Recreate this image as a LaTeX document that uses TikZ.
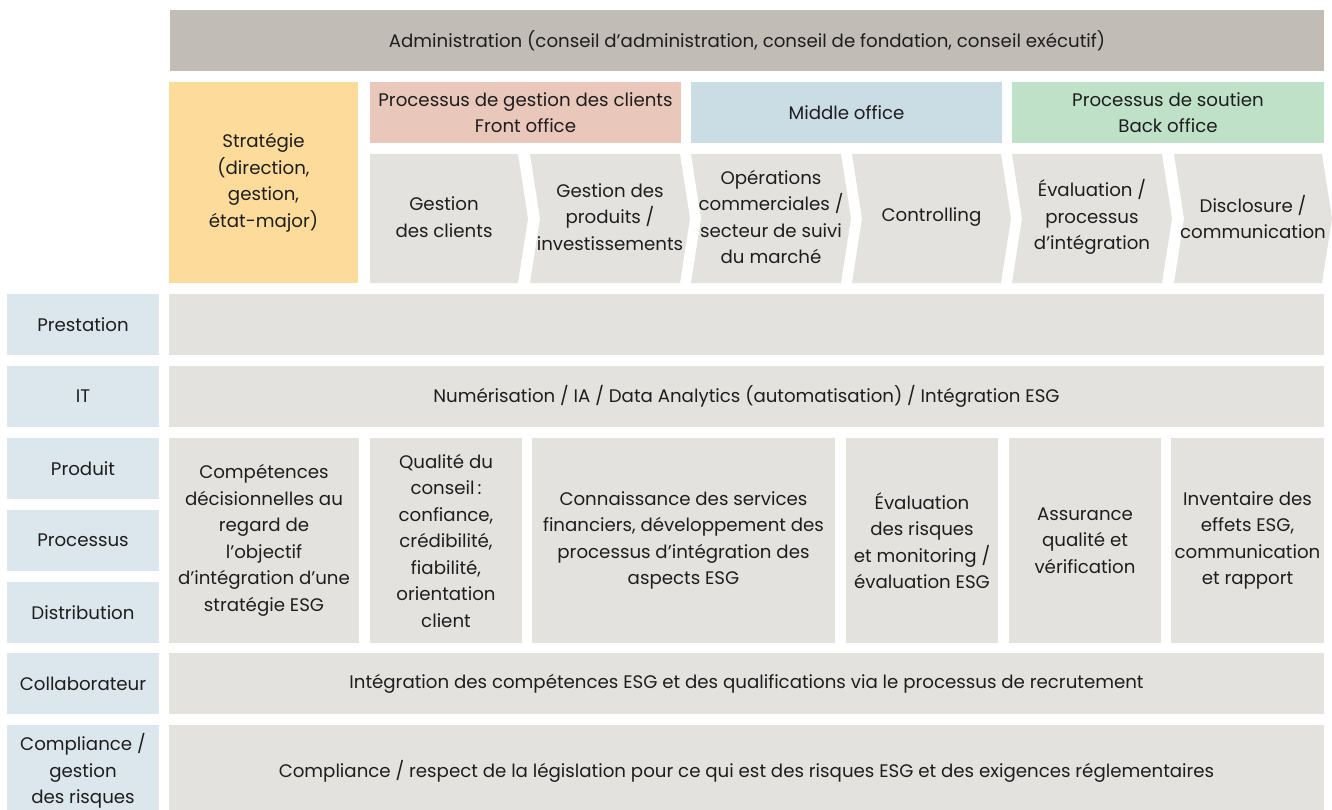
\documentclass[tikz,border=0pt]{standalone}
\usepackage{fontspec}
\setmainfont{Poppins}
\definecolor{admin}{HTML}{C1BCB6}
\definecolor{strat}{HTML}{FDDB9B}
\definecolor{front}{HTML}{E9C7BA}
\definecolor{middle}{HTML}{CADCE4}
\definecolor{back}{HTML}{BEE1C8}
\definecolor{gbox}{HTML}{E3E2DF}
\definecolor{lbl}{HTML}{DCE6ED}
\definecolor{ink}{HTML}{1E1E1E}
\newcommand\myfs{\fontsize{18.2}{26.5}\selectfont}
\tikzset{
  txt/.style={text=ink, font=\myfs, align=center, inner sep=0pt},
}
% name, x, y, width, height, fill, text
\newcommand\mybox[7]{%
  \fill[#6] (#2,#3) rectangle ++(#4,#5);
  \node[txt] (#1) at ({#2+#4/2},{#3+#5/2}) {#7};
}
% name, L, R, notch, text
\newcommand\mychev[5]{%
  \fill[gbox] (#2,154) -- (#3,154) -- (#3+10,218.5) -- (#3,283) -- (#2,283) -- (#2+#4,218.5) -- cycle;
  \node[txt] (#1) at ({(#2+#3)/2+#4/2},217) {#5};
}
\begin{document}
\begin{tikzpicture}[x=1pt,y=-1pt]
\useasboundingbox (0,0) rectangle (1332,809);
% top
\mybox{admin}{170}{10}{1154}{61}{admin}{Administration (conseil d’administration, conseil de fondation, conseil exécutif)}
\mybox{strat}{169}{82}{189}{201}{strat}{Stratégie\\(direction,\\gestion,\\état-major)}
\mybox{front}{370}{82}{311}{61}{front}{Processus de gestion des clients\\Front office}
\mybox{middle}{691}{82}{311}{61}{middle}{Middle office}
\mybox{back}{1012}{82}{312}{61}{back}{Processus de soutien\\Back office}
% chevrons
\mychev{c1}{370}{518}{0}{Gestion\\des clients}
\mychev{c2}{530}{680}{10}{Gestion des\\produits /\\investissements}
\mychev{c3}{691}{841}{10}{Opérations\\commerciales /\\secteur de suivi\\du marché}
\mychev{c4}{852}{1001}{10}{Controlling}
\mychev{c5}{1012}{1162}{10}{Évaluation /\\processus\\d’intégration}
\mychev{c6}{1174}{1322}{10}{Disclosure /\\communication}
% left labels
\mybox{lprest}{7}{294}{152}{61}{lbl}{Prestation}
\mybox{lit}{7}{366}{152}{61}{lbl}{IT}
\mybox{lprod}{7}{438}{152}{61}{lbl}{Produit}
\mybox{lproc}{7}{510}{152}{61}{lbl}{Processus}
\mybox{ldist}{7}{582}{152}{61}{lbl}{Distribution}
\mybox{lcoll}{7}{653}{152}{61}{lbl}{Collaborateur}
\mybox{lcomp}{7}{725}{152}{92}{lbl}{Compliance /\\gestion\\des risques}
% rows
\mybox{prest}{169}{294}{1155}{61}{gbox}{}
\mybox{it}{169}{366}{1155}{61}{gbox}{Numérisation / IA / Data Analytics (automatisation) / Intégration ESG}
\mybox{b1}{169}{438}{190}{205}{gbox}{Compétences\\décisionnelles au\\regard de\\l’objectif\\d’intégration d’une\\stratégie ESG}
\mybox{b2}{370}{438}{152}{205}{gbox}{Qualité du\\conseil\,:\\confiance,\\crédibilité,\\fiabilité,\\orientation\\client}
\mybox{b3}{532}{438}{303}{205}{gbox}{Connaissance des services\\financiers, développement des\\processus d’intégration des\\aspects ESG}
\mybox{b4}{846}{438}{152}{205}{gbox}{Évaluation\\des risques\\et monitoring /\\évaluation ESG}
\mybox{b5}{1009}{438}{152}{205}{gbox}{Assurance\\qualité et\\vérification}
\mybox{b6}{1171}{438}{153}{205}{gbox}{Inventaire des\\effets ESG,\\communication\\et rapport}
\mybox{coll}{169}{653}{1155}{61}{gbox}{Intégration des compétences ESG et des qualifications via le processus de recrutement}
\mybox{comp}{169}{725}{1155}{92}{gbox}{Compliance / respect de la législation pour ce qui est des risques ESG et des exigences réglementaires}
\end{tikzpicture}
\end{document}
